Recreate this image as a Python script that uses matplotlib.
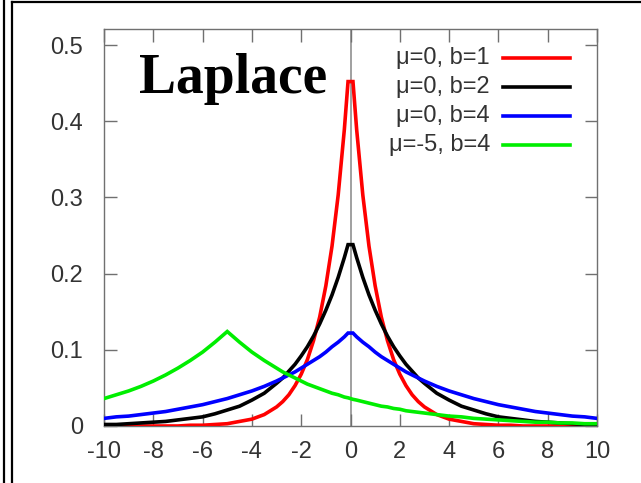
import matplotlib
import matplotlib.pyplot as plt
from matplotlib.lines import Line2D

matplotlib.use("Agg")

# sample positions (denser near the peaks)
x_vals = [-10, -9.5, -9, -8.5, -8, -7.5, -7, -6.5, -6, -5.5, -5, -4.5, -4, -3.5,
          -3, -2.75, -2.5, -2.25, -2, -1.75, -1.5, -1.25, -1, -0.75, -0.5, -0.25, -0.1,
          0.1, 0.25, 0.5, 0.75, 1, 1.25, 1.5, 1.75, 2, 2.25, 2.5, 2.75, 3,
          3.5, 4, 4.5, 5, 5.5, 6, 6.5, 7, 7.5, 8, 8.5, 9, 9.5, 10]

red_b1 = [0.000, 0.000, 0.000, 0.000, 0.000, 0.000, 0.000, 0.001, 0.001, 0.002,
          0.003, 0.006, 0.009, 0.015,
          0.025, 0.032, 0.041, 0.053, 0.068, 0.087, 0.112, 0.143, 0.184, 0.236,
          0.303, 0.389, 0.452,
          0.452, 0.389, 0.303, 0.236, 0.184, 0.143, 0.112, 0.087, 0.068, 0.053,
          0.041, 0.032, 0.025,
          0.015, 0.009, 0.006, 0.003, 0.002, 0.001, 0.001, 0.000, 0.000, 0.000,
          0.000, 0.000, 0.000, 0.000]

black_b2 = [0.002, 0.002, 0.003, 0.004, 0.005, 0.006, 0.008, 0.010, 0.012, 0.016,
            0.021, 0.026, 0.034, 0.043,
            0.056, 0.063, 0.072, 0.081, 0.092, 0.104, 0.118, 0.134, 0.152, 0.172,
            0.195, 0.221, 0.238,
            0.238, 0.221, 0.195, 0.172, 0.152, 0.134, 0.118, 0.104, 0.092, 0.081,
            0.072, 0.063, 0.056,
            0.043, 0.034, 0.026, 0.021, 0.016, 0.012, 0.010, 0.008, 0.006, 0.005,
            0.004, 0.003, 0.002, 0.002]

blue_b4 = [0.010, 0.012, 0.013, 0.015, 0.017, 0.019, 0.022, 0.025, 0.028, 0.032,
           0.036, 0.041, 0.046, 0.052,
           0.059, 0.063, 0.067, 0.071, 0.076, 0.081, 0.086, 0.091, 0.097, 0.104,
           0.110, 0.117, 0.122,
           0.122, 0.117, 0.110, 0.104, 0.097, 0.091, 0.086, 0.081, 0.076, 0.071,
           0.067, 0.063, 0.059,
           0.052, 0.046, 0.041, 0.036, 0.032, 0.028, 0.025, 0.022, 0.019, 0.017,
           0.015, 0.013, 0.012, 0.010]

green_m5_b4 = [0.036, 0.041, 0.046, 0.052, 0.059, 0.067, 0.076, 0.086, 0.097, 0.110,
               0.124, 0.110, 0.097, 0.086,
               0.076, 0.071, 0.067, 0.063, 0.059, 0.055, 0.052, 0.049, 0.046, 0.043,
               0.041, 0.038, 0.037,
               0.035, 0.034, 0.032, 0.030, 0.028, 0.026, 0.025, 0.023, 0.022, 0.020,
               0.019, 0.018, 0.017,
               0.015, 0.013, 0.012, 0.010, 0.009, 0.008, 0.007, 0.006, 0.005, 0.005,
               0.004, 0.004, 0.003, 0.003]

labels = ["μ=0, b=1", "μ=0, b=2", "μ=0, b=4", "μ=-5, b=4"]
colors = ["#ff0000", "#000000", "#0000ff", "#00ee00"]
series = [red_b1, black_b2, blue_b4, green_m5_b4]

x_ticks = [-10, -8, -6, -4, -2, 0, 2, 4, 6, 8, 10]
y_ticks = [0, 0.1, 0.2, 0.3, 0.4, 0.5]
y_tick_labels = ["0", "0.1", "0.2", "0.3", "0.4", "0.5"]

W, H = 641, 483
plt.rcParams["font.family"] = ["Liberation Sans", "DejaVu Sans"]

fig = plt.figure(figsize=(W / 100, H / 100), dpi=100, facecolor="white")
ax = fig.add_axes([104 / W, 1 - 426 / H, (597 - 104) / W, (426 - 29) / H])

ax.axvline(0, color="#909090", lw=1.2, zorder=1)

for ys, c in zip(series, colors):
    ax.plot(x_vals, ys, color=c, lw=2.6, solid_joinstyle="miter", zorder=3)

ax.set_xlim(-10, 10)
ax.set_ylim(0, 0.521)
ax.set_xticks(x_ticks)
ax.set_xticklabels([str(t) for t in x_ticks])
ax.set_yticks(y_ticks)
ax.set_yticklabels(y_tick_labels)

for sp in ax.spines.values():
    sp.set_color("#707070")
    sp.set_linewidth(1.0)

ax.tick_params(axis="both", direction="in", length=9, width=1, color="#707070",
               labelsize=17, labelcolor="#333333", top=True, right=True)
ax.tick_params(axis="x", pad=11)
ax.tick_params(axis="y", pad=15)

# legend drawn by hand, gnuplot style (text right, sample left)
row_y = [58, 87, 116, 145]
for lab, c, ry in zip(labels, colors, row_y):
    fig.text(490 / W, 1 - ry / H, lab, ha="right", va="center",
             fontsize=17, color="#333333")
    fig.add_artist(Line2D([503 / W, 570 / W], [1 - ry / H, 1 - ry / H],
                          transform=fig.transFigure, color=c, lw=2.6))

fig.text(139 / W, 1 - 93 / H, "Laplace", ha="left", va="baseline",
         fontsize=40, fontweight="bold", family="Liberation Serif", color="black")

# slide frame lines around the picture
frame = dict(transform=fig.transFigure, color="black", lw=1.6)
fig.add_artist(Line2D([4 / W, 4 / W], [0, 1 - 1 / H], **frame))
fig.add_artist(Line2D([12 / W, 12 / W], [0, 1 - 2 / H], **frame))
fig.add_artist(Line2D([12 / W, 1], [1 - 2 / H, 1 - 2 / H], **frame))

fig.savefig("out.png", dpi=100, facecolor="white")
plt.close(fig)
